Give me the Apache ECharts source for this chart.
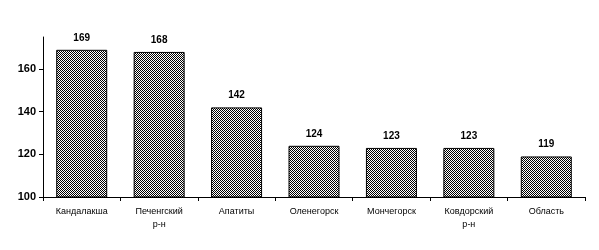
<!DOCTYPE html>
<html><head><meta charset="utf-8">
<script src="https://cdn.jsdelivr.net/npm/echarts@6/dist/echarts.min.js"></script>
<style>html,body{margin:0;padding:0;background:#fff}#c{width:599px;height:250px}</style>
</head><body><div id="c"></div>
<script>
const categories = ['Кандалакша', 'Печенгский\nр-н', 'Апатиты', 'Оленегорск', 'Мончегорск', 'Ковдорский\nр-н', 'Область'];
const values = [169, 168, 142, 124, 123, 123, 119];
const yTicks = [100, 120, 140, 160];

const pc = document.createElement('canvas');
pc.width = 2; pc.height = 2;
const pctx = pc.getContext('2d');
pctx.fillStyle = '#fff'; pctx.fillRect(0, 0, 2, 2);
pctx.fillStyle = '#000'; pctx.fillRect(0, 0, 1, 1); pctx.fillRect(1, 1, 1, 1);

const chart = echarts.init(document.getElementById('c'), null, {renderer: 'canvas'});
chart.setOption({
  animation: false,
  backgroundColor: '#fff',
  grid: {left: 43, right: 14, top: 37, bottom: 53, containLabel: false},
  xAxis: {
    type: 'category', data: categories,
    axisLine: {lineStyle: {color: '#000', width: 1}},
    axisTick: {show: true, length: 4, lineStyle: {color: '#000'}},
    axisLabel: {color: '#000', fontFamily: 'Arial, Liberation Sans', fontSize: 9, lineHeight: 13, margin: 8, interval: 0}
  },
  yAxis: {
    type: 'value', min: 100, max: 175, interval: 20,
    splitLine: {show: false},
    axisLine: {show: true, lineStyle: {color: '#000', width: 1}},
    axisTick: {show: true, length: 4, lineStyle: {color: '#000'}, customValues: yTicks},
    axisLabel: {color: '#000', fontFamily: 'Arial, Liberation Sans', fontSize: 11, fontWeight: 'bold', margin: 7, customValues: yTicks}
  },
  series: [{
    type: 'bar', data: values, barWidth: 51,
    itemStyle: {color: {image: pc, repeat: 'repeat'}, borderColor: '#000', borderWidth: 1},
    label: {show: true, position: 'top', distance: 7, color: '#000', fontFamily: 'Arial, Liberation Sans', fontSize: 10, fontWeight: 'bold'}
  }]
});
</script></body></html>
